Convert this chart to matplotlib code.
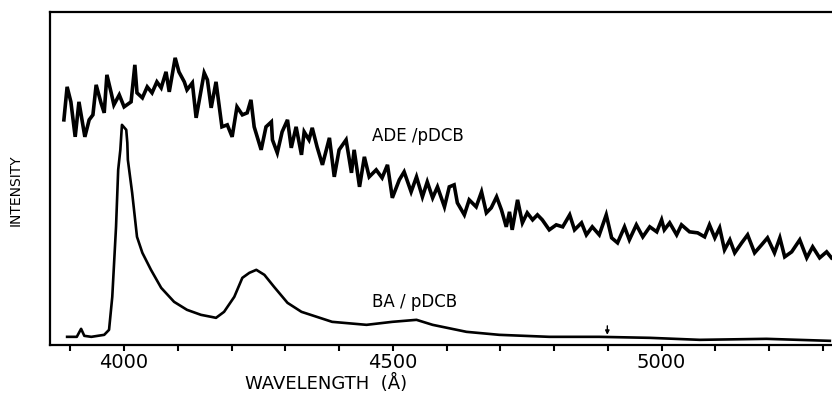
"""Emission spectra of ADE/pDCB and BA/pDCB (intensity vs wavelength)."""

import matplotlib

matplotlib.use("Agg")
import matplotlib.pyplot as plt
from matplotlib.ticker import MultipleLocator

# ADE/pDCB trace (wavelength in Angstrom, intensity arb. units)
ade_wavelength = [
    3888, 3894, 3901, 3909, 3916, 3927, 3935, 3942, 3948, 3957, 3963, 3968,
    3976, 3981, 3991, 4000, 4013, 4020, 4024, 4034, 4043, 4052, 4061, 4069,
    4078, 4084, 4095, 4102, 4112, 4117, 4127, 4134, 4140, 4149, 4155, 4162,
    4171, 4177, 4182, 4192, 4201, 4210, 4220, 4229, 4236, 4242, 4255, 4264,
    4274, 4276, 4285, 4294, 4304, 4311, 4320, 4330, 4335, 4344, 4350, 4359,
    4369, 4382, 4391, 4400, 4413, 4423, 4428, 4438, 4447, 4456, 4469, 4480,
    4490, 4499, 4512, 4521, 4534, 4544, 4555, 4564, 4574, 4583, 4596, 4605,
    4614, 4620, 4633, 4642, 4655, 4665, 4674, 4683, 4693, 4702, 4711, 4717,
    4722, 4732, 4741, 4750, 4760, 4769, 4778, 4791, 4804, 4816, 4829, 4838,
    4851, 4860, 4871, 4884, 4897, 4907, 4918, 4931, 4940, 4953, 4965, 4978,
    4991, 5000, 5005, 5015, 5028, 5037, 5052, 5067, 5080, 5089, 5099, 5108,
    5117, 5127, 5136, 5149, 5160, 5173, 5186, 5197, 5210, 5220, 5229, 5242,
    5257, 5270, 5281, 5294, 5307, 5316,
]
ade_intensity = [
    225, 258, 243, 208, 243, 208, 225, 230, 260, 242, 232, 270,
    252, 240, 250, 238, 243, 280, 252, 247, 258, 252, 263, 257,
    273, 253, 287, 273, 263, 255, 262, 227, 245, 272, 265, 237,
    263, 238, 218, 220, 208, 238, 230, 232, 245, 218, 195, 218,
    223, 205, 192, 213, 225, 197, 218, 190, 213, 205, 217, 198,
    180, 207, 168, 195, 205, 172, 195, 158, 188, 168, 175, 167,
    180, 147, 165, 173, 153, 168, 148, 163, 147, 158, 138, 158,
    160, 142, 130, 145, 138, 153, 132, 137, 148, 135, 118, 133,
    115, 145, 122, 132, 125, 130, 125, 115, 120, 118, 130, 115,
    122, 110, 118, 110, 130, 107, 102, 118, 105, 120, 108, 118,
    113, 125, 115, 122, 110, 120, 113, 112, 108, 120, 107, 117,
    95, 105, 92, 102, 110, 92, 100, 107, 92, 107, 88, 93,
    105, 87, 98, 87, 93, 87,
]

# BA/pDCB trace
ba_wavelength = [
    3894, 3912, 3920, 3926, 3939, 3963, 3972, 3978, 3985, 3989, 3993, 3996,
    4004, 4006, 4007, 4015, 4024, 4034, 4050, 4069, 4093, 4117, 4143, 4162,
    4171, 4186, 4205, 4220, 4233, 4246, 4261, 4279, 4304, 4330, 4387, 4451,
    4499, 4544, 4574, 4637, 4698, 4791, 4884, 4978, 5071, 5195, 5313,
]
ba_intensity = [
    8, 8, 16, 9, 8, 10, 15, 48, 118, 175, 195, 220,
    215, 202, 185, 152, 108, 92, 75, 57, 43, 35, 30, 28,
    27, 33, 48, 67, 72, 75, 70, 58, 42, 33, 23, 20,
    23, 25, 20, 13, 10, 8, 8, 7, 5, 6, 4,
]

# wavelength marked with a small arrow on the BA trace
marker_wavelength = 4899
marker_intensity = 10

x_limits = (3862, 5317)
y_limits = (0, 333)


def main() -> None:
    plt.rcParams["font.family"] = "DejaVu Sans"
    fig = plt.figure(figsize=(8.32, 3.95), dpi=100)
    ax = fig.add_axes([0.06, 0.127, 0.94, 0.843])

    ax.plot(ade_wavelength, ade_intensity, color="black", linewidth=2.6,
            solid_joinstyle="miter")
    ax.plot(ba_wavelength, ba_intensity, color="black", linewidth=1.9)

    ax.annotate(
        "",
        xy=(marker_wavelength, marker_intensity),
        xytext=(marker_wavelength, marker_intensity + 9),
        arrowprops=dict(arrowstyle="-|>", color="black", lw=1.0, mutation_scale=6,
                        shrinkA=0, shrinkB=0),
    )

    ax.text(4547, 209, "ADE /pDCB", fontsize=12, ha="center", va="center")
    ax.text(4540, 43, "BA / pDCB", fontsize=12, ha="center", va="center")

    ax.set_xlim(*x_limits)
    ax.set_ylim(*y_limits)

    ax.xaxis.set_major_locator(MultipleLocator(500))
    ax.xaxis.set_minor_locator(MultipleLocator(100))
    ax.tick_params(axis="x", which="both", direction="out", length=4, width=1.5,
                   labelsize=14, pad=2)
    ax.set_yticks([])

    for side in ("left", "bottom", "top"):
        ax.spines[side].set_linewidth(1.6)
    ax.spines["right"].set_visible(False)

    fig.text(326 / 832, 1 - 383 / 395, "WAVELENGTH  (Å)", fontsize=13,
             ha="center", va="center")
    fig.text(16 / 832, 1 - 190 / 395, "INTENSITY", fontsize=10, rotation=90,
             ha="center", va="center")

    fig.savefig("out.png", dpi=100)


if __name__ == "__main__":
    main()
